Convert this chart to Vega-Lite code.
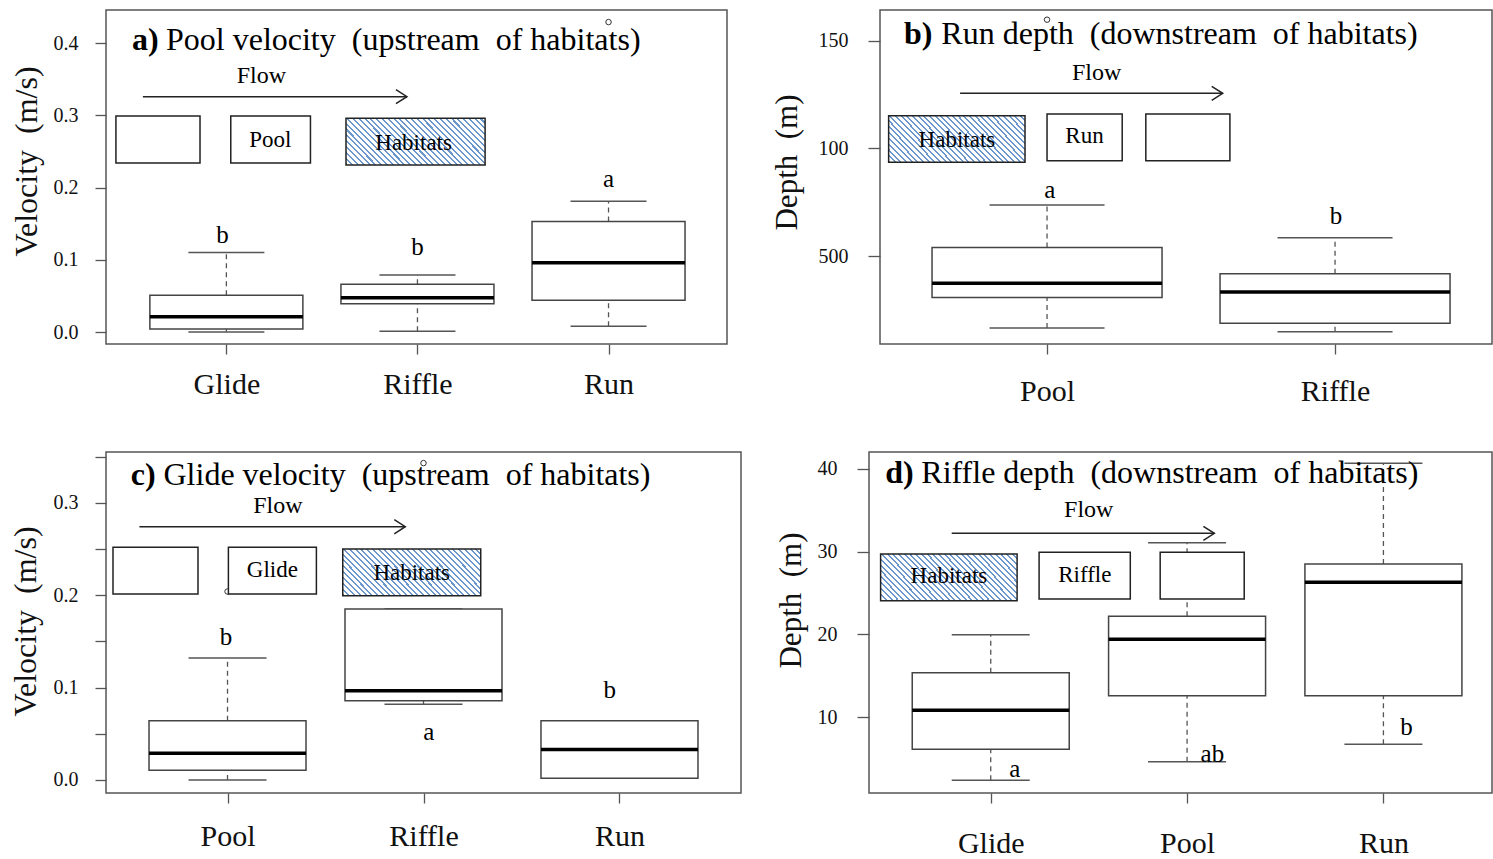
{
"$schema": "https://vega.github.io/schema/vega-lite/v6.json",
"background": "white",
"padding": {"left": 8, "top": 9, "right": 0, "bottom": 0},
"autosize": {"type": "pad"},
"bounds": "flush",
"spacing": 442,
"config": {
 "view": {"stroke": "#555", "strokeWidth": 1.5},
 "font": "Liberation Serif",
 "scale": {"continuousPadding": 0},
 "axis": {"grid": false, "domain": false, "tickColor": "#555", "tickWidth": 1.3, "labelFont": "Liberation Serif", "titleFont": "Liberation Serif", "labelColor": "#111", "titleColor": "#111", "titleFontWeight": "normal", "labelFlush": false, "labelOverlap": false, "labelBound": false}
},
"datasets": {
 "a_box": [
  {"habitat":"Glide","pos":1,"lower":0.0,"q1":0.004,"median":0.021,"q3":0.051,"upper":0.110},
  {"habitat":"Riffle","pos":2,"lower":0.001,"q1":0.039,"median":0.0475,"q3":0.066,"upper":0.079},
  {"habitat":"Run","pos":3,"lower":0.008,"q1":0.044,"median":0.096,"q3":0.153,"upper":0.181}
 ],
 "a_out": [{"habitat":"Run","pos":3,"value":0.429}],
 "a_shapes": [
  {"role":"plain","x1":0.422,"x2":0.862,"y1":0.299,"y2":0.234},
  {"role":"plain","x1":1.023,"x2":1.440,"y1":0.299,"y2":0.234},
  {"role":"hatch","x1":1.626,"x2":2.354,"y1":0.2958,"y2":0.2311},
  {"role":"arrow","x1":0.563,"x2":1.945,"y1":0.3257,"y2":0.3257}
 ],
 "a_text": [
  {"role":"tag","text":"a)","x":0.506,"y":0.390},
  {"role":"title","text":"Pool velocity\u00a0 (upstream\u00a0 of habitats)","x":0.684,"y":0.390},
  {"role":"flow","text":"Flow","x":1.183,"y":0.345},
  {"role":"label","text":"Pool","x":1.23,"y":0.2565},
  {"role":"label","text":"Habitats","x":1.98,"y":0.2519},
  {"role":"letter","text":"b","x":0.98,"y":0.1228},
  {"role":"letter","text":"b","x":2.0,"y":0.1066},
  {"role":"letter","text":"a","x":3.0,"y":0.2011}
 ],
 "b_box": [
  {"habitat":"Pool","pos":1,"lower":16.6,"q1":30.7,"median":37.3,"q3":54.0,"upper":73.7},
  {"habitat":"Riffle","pos":2,"lower":14.8,"q1":18.8,"median":33.3,"q3":41.8,"upper":58.5}
 ],
 "b_out": [{"habitat":"Pool","pos":1,"value":159.7}],
 "b_shapes": [
  {"role":"hatch","x1":0.450,"x2":0.9235,"y1":115.1,"y2":93.5},
  {"role":"plain","x1":1.000,"x2":1.261,"y1":115.9,"y2":94.2},
  {"role":"plain","x1":1.343,"x2":1.635,"y1":115.9,"y2":94.2},
  {"role":"arrow","x1":0.698,"x2":1.610,"y1":125.5,"y2":125.5}
 ],
 "b_text": [
  {"role":"tag","text":"b)","x":0.503,"y":148.3},
  {"role":"title","text":"Run depth\u00a0 (downstream\u00a0 of habitats)","x":0.633,"y":148.3},
  {"role":"flow","text":"Flow","x":1.172,"y":131.7},
  {"role":"label","text":"Habitats","x":0.687,"y":100.7},
  {"role":"label","text":"Run","x":1.13,"y":102.3},
  {"role":"letter","text":"a","x":1.01,"y":76.8},
  {"role":"letter","text":"b","x":2.003,"y":64.9}
 ],
 "c_box": [
  {"habitat":"Pool","pos":1,"lower":0.0,"q1":0.0105,"median":0.029,"q3":0.064,"upper":0.132},
  {"habitat":"Riffle","pos":2,"lower":0.082,"q1":0.0858,"median":0.0967,"q3":0.185,"upper":0.185},
  {"habitat":"Run","pos":3,"lower":0.002,"q1":0.002,"median":0.033,"q3":0.064,"upper":0.064}
 ],
 "c_out": [{"habitat":"Pool","pos":1,"value":0.204},{"habitat":"Riffle","pos":2,"value":0.343}],
 "c_shapes": [
  {"role":"plain","x1":0.4157,"x2":0.8494,"y1":0.2518,"y2":0.2013},
  {"role":"plain","x1":1.0045,"x2":1.4535,"y1":0.2518,"y2":0.2013},
  {"role":"hatch","x1":1.588,"x2":2.292,"y1":0.25,"y2":0.1995},
  {"role":"arrow","x1":0.5504,"x2":1.907,"y1":0.2741,"y2":0.2741}
 ],
 "c_text": [
  {"role":"tag","text":"c)","x":0.5065,"y":0.3193},
  {"role":"title","text":"Glide velocity\u00a0 (upstream\u00a0 of habitats)","x":0.6734,"y":0.3193},
  {"role":"flow","text":"Flow","x":1.257,"y":0.2886},
  {"role":"label","text":"Glide","x":1.229,"y":0.22},
  {"role":"label","text":"Habitats","x":1.94,"y":0.2165},
  {"role":"letter","text":"b","x":0.992,"y":0.1461},
  {"role":"letter","text":"a","x":2.027,"y":0.0433},
  {"role":"letter","text":"b","x":2.95,"y":0.0884}
 ],
 "d_box": [
  {"habitat":"Glide","pos":1,"lower":2.4,"q1":6.12,"median":10.83,"q3":15.37,"upper":19.96},
  {"habitat":"Pool","pos":2,"lower":4.63,"q1":12.6,"median":19.4,"q3":22.2,"upper":31.07},
  {"habitat":"Run","pos":3,"lower":6.73,"q1":12.6,"median":26.3,"q3":28.5,"upper":40.66}
 ],
 "d_shapes": [
  {"role":"hatch","x1":0.4391,"x2":1.1343,"y1":29.71,"y2":24.07},
  {"role":"plain","x1":1.2463,"x2":1.7108,"y1":29.92,"y2":24.28},
  {"role":"plain","x1":1.863,"x2":2.291,"y1":29.92,"y2":24.28},
  {"role":"arrow","x1":0.8012,"x2":2.139,"y1":32.21,"y2":32.21}
 ],
 "d_text": [
  {"role":"tag","text":"d)","x":0.463,"y":38.25},
  {"role":"title","text":"Riffle depth\u00a0 (downstream\u00a0 of habitats)","x":0.6464,"y":38.25},
  {"role":"flow","text":"Flow","x":1.499,"y":34.14},
  {"role":"label","text":"Habitats","x":0.787,"y":26.17},
  {"role":"label","text":"Riffle","x":1.479,"y":26.37},
  {"role":"letter","text":"a","x":1.123,"y":2.82},
  {"role":"letter","text":"ab","x":2.129,"y":4.63},
  {"role":"letter","text":"b","x":3.118,"y":7.85}
 ]
},
"vconcat": [
 {"hconcat": [
  {"width": 621, "height": 334, "layer": [
   {"data":{"name":"a_box"},"mark":{"type":"rule","color":"#555","strokeWidth":1.3,"strokeDash":[5,4]},
    "encoding":{"x":{"field":"pos","type":"quantitative","scale":{"domain":[0.37,3.62],"nice":false,"zero":false,"padding":0},"axis":{"values":[1,2,3],"labelExpr":"datum.value==1?'Glide':datum.value==2?'Riffle':'Run'","tickSize":10,"labelPadding":15,"labelFontSize":30,"title":null}},
     "y":{"field":"q3","type":"quantitative","scale":{"domain":[-0.0166,0.4457],"nice":false,"zero":false,"padding":0},"axis":{"values":[0,0.1,0.2,0.3,0.4],"format":".1f","tickSize":11,"labelPadding":17,"labelFontSize":20,"title":"Velocity\u00a0 (m/s)","titleFontSize":32,"titleX":-63,"titleY":151}},
     "y2":{"field":"upper"}}},
   {"data":{"name":"a_box"},"mark":{"type":"rule","color":"#555","strokeWidth":1.3,"strokeDash":[5,4]},
    "encoding":{"x":{"field":"pos","type":"quantitative"},"y":{"field":"lower","type":"quantitative"},"y2":{"field":"q1"}}},
   {"data":{"name":"a_box"},"mark":{"type":"tick","orient":"horizontal","color":"#555","thickness":1.5,"size":76,"opacity":1},
    "encoding":{"x":{"field":"pos","type":"quantitative"},"y":{"field":"upper","type":"quantitative"}}},
   {"data":{"name":"a_box"},"mark":{"type":"tick","orient":"horizontal","color":"#555","thickness":1.5,"size":76,"opacity":1},
    "encoding":{"x":{"field":"pos","type":"quantitative"},"y":{"field":"lower","type":"quantitative"}}},
   {"data":{"name":"a_box"},"mark":{"type":"bar","fill":"white","stroke":"#444","strokeWidth":1.5,"size":153},
    "encoding":{"x":{"field":"pos","type":"quantitative"},"y":{"field":"q1","type":"quantitative"},"y2":{"field":"q3"}}},
   {"data":{"name":"a_box"},"mark":{"type":"tick","orient":"horizontal","color":"#000","thickness":3.5,"size":153,"opacity":1},
    "encoding":{"x":{"field":"pos","type":"quantitative"},"y":{"field":"median","type":"quantitative"}}},
   {"data":{"name":"a_out"},"mark":{"type":"point","shape":"circle","filled":false,"size":30,"stroke":"#333","strokeWidth":1,"opacity":1},
    "encoding":{"x":{"field":"pos","type":"quantitative"},"y":{"field":"value","type":"quantitative"}}},
   {"data":{"name":"a_shapes"},"transform":[{"filter":"datum.role=='plain'"}],"mark":{"type":"rect","fill":"white","stroke":"#222","strokeWidth":1.5},
    "encoding":{"x":{"field":"x1","type":"quantitative"},"x2":{"field":"x2"},"y":{"field":"y1","type":"quantitative"},"y2":{"field":"y2"}}},
   {"data":{"name":"a_shapes"},"transform":[{"filter":"datum.role=='hatch'"}],"mark":{"type":"rect","stroke":"#222","strokeWidth":1.5,"fill":{"gradient":"linear","x1":0,"y1":1,"x2":1.2,"y2":0.6,"stops":[
{"offset":0,"color":"#6b97cd"},{"offset":0.011,"color":"#6b97cd"},{"offset":0.011,"color":"#fff"},{"offset":0.03125,"color":"#fff"},
{"offset":0.03125,"color":"#6b97cd"},{"offset":0.04225,"color":"#6b97cd"},{"offset":0.04225,"color":"#fff"},{"offset":0.0625,"color":"#fff"},
{"offset":0.0625,"color":"#6b97cd"},{"offset":0.0735,"color":"#6b97cd"},{"offset":0.0735,"color":"#fff"},{"offset":0.09375,"color":"#fff"},
{"offset":0.09375,"color":"#6b97cd"},{"offset":0.10475,"color":"#6b97cd"},{"offset":0.10475,"color":"#fff"},{"offset":0.125,"color":"#fff"},
{"offset":0.125,"color":"#6b97cd"},{"offset":0.136,"color":"#6b97cd"},{"offset":0.136,"color":"#fff"},{"offset":0.15625,"color":"#fff"},
{"offset":0.15625,"color":"#6b97cd"},{"offset":0.16725,"color":"#6b97cd"},{"offset":0.16725,"color":"#fff"},{"offset":0.1875,"color":"#fff"},
{"offset":0.1875,"color":"#6b97cd"},{"offset":0.1985,"color":"#6b97cd"},{"offset":0.1985,"color":"#fff"},{"offset":0.21875,"color":"#fff"},
{"offset":0.21875,"color":"#6b97cd"},{"offset":0.22975,"color":"#6b97cd"},{"offset":0.22975,"color":"#fff"},{"offset":0.25,"color":"#fff"},
{"offset":0.25,"color":"#6b97cd"},{"offset":0.261,"color":"#6b97cd"},{"offset":0.261,"color":"#fff"},{"offset":0.28125,"color":"#fff"},
{"offset":0.28125,"color":"#6b97cd"},{"offset":0.29225,"color":"#6b97cd"},{"offset":0.29225,"color":"#fff"},{"offset":0.3125,"color":"#fff"},
{"offset":0.3125,"color":"#6b97cd"},{"offset":0.3235,"color":"#6b97cd"},{"offset":0.3235,"color":"#fff"},{"offset":0.34375,"color":"#fff"},
{"offset":0.34375,"color":"#6b97cd"},{"offset":0.35475,"color":"#6b97cd"},{"offset":0.35475,"color":"#fff"},{"offset":0.375,"color":"#fff"},
{"offset":0.375,"color":"#6b97cd"},{"offset":0.386,"color":"#6b97cd"},{"offset":0.386,"color":"#fff"},{"offset":0.40625,"color":"#fff"},
{"offset":0.40625,"color":"#6b97cd"},{"offset":0.41725,"color":"#6b97cd"},{"offset":0.41725,"color":"#fff"},{"offset":0.4375,"color":"#fff"},
{"offset":0.4375,"color":"#6b97cd"},{"offset":0.4485,"color":"#6b97cd"},{"offset":0.4485,"color":"#fff"},{"offset":0.46875,"color":"#fff"},
{"offset":0.46875,"color":"#6b97cd"},{"offset":0.47975,"color":"#6b97cd"},{"offset":0.47975,"color":"#fff"},{"offset":0.5,"color":"#fff"},
{"offset":0.5,"color":"#6b97cd"},{"offset":0.511,"color":"#6b97cd"},{"offset":0.511,"color":"#fff"},{"offset":0.53125,"color":"#fff"},
{"offset":0.53125,"color":"#6b97cd"},{"offset":0.54225,"color":"#6b97cd"},{"offset":0.54225,"color":"#fff"},{"offset":0.5625,"color":"#fff"},
{"offset":0.5625,"color":"#6b97cd"},{"offset":0.5735,"color":"#6b97cd"},{"offset":0.5735,"color":"#fff"},{"offset":0.59375,"color":"#fff"},
{"offset":0.59375,"color":"#6b97cd"},{"offset":0.60475,"color":"#6b97cd"},{"offset":0.60475,"color":"#fff"},{"offset":0.625,"color":"#fff"},
{"offset":0.625,"color":"#6b97cd"},{"offset":0.636,"color":"#6b97cd"},{"offset":0.636,"color":"#fff"},{"offset":0.65625,"color":"#fff"},
{"offset":0.65625,"color":"#6b97cd"},{"offset":0.66725,"color":"#6b97cd"},{"offset":0.66725,"color":"#fff"},{"offset":0.6875,"color":"#fff"},
{"offset":0.6875,"color":"#6b97cd"},{"offset":0.6985,"color":"#6b97cd"},{"offset":0.6985,"color":"#fff"},{"offset":0.71875,"color":"#fff"},
{"offset":0.71875,"color":"#6b97cd"},{"offset":0.72975,"color":"#6b97cd"},{"offset":0.72975,"color":"#fff"},{"offset":0.75,"color":"#fff"},
{"offset":0.75,"color":"#6b97cd"},{"offset":0.761,"color":"#6b97cd"},{"offset":0.761,"color":"#fff"},{"offset":0.78125,"color":"#fff"},
{"offset":0.78125,"color":"#6b97cd"},{"offset":0.79225,"color":"#6b97cd"},{"offset":0.79225,"color":"#fff"},{"offset":0.8125,"color":"#fff"},
{"offset":0.8125,"color":"#6b97cd"},{"offset":0.8235,"color":"#6b97cd"},{"offset":0.8235,"color":"#fff"},{"offset":0.84375,"color":"#fff"},
{"offset":0.84375,"color":"#6b97cd"},{"offset":0.85475,"color":"#6b97cd"},{"offset":0.85475,"color":"#fff"},{"offset":0.875,"color":"#fff"},
{"offset":0.875,"color":"#6b97cd"},{"offset":0.886,"color":"#6b97cd"},{"offset":0.886,"color":"#fff"},{"offset":0.90625,"color":"#fff"},
{"offset":0.90625,"color":"#6b97cd"},{"offset":0.91725,"color":"#6b97cd"},{"offset":0.91725,"color":"#fff"},{"offset":0.9375,"color":"#fff"},
{"offset":0.9375,"color":"#6b97cd"},{"offset":0.9485,"color":"#6b97cd"},{"offset":0.9485,"color":"#fff"},{"offset":0.96875,"color":"#fff"},
{"offset":0.96875,"color":"#6b97cd"},{"offset":0.97975,"color":"#6b97cd"},{"offset":0.97975,"color":"#fff"},{"offset":1,"color":"#fff"}]}},
    "encoding":{"x":{"field":"x1","type":"quantitative"},"x2":{"field":"x2"},"y":{"field":"y1","type":"quantitative"},"y2":{"field":"y2"}}},
   {"data":{"name":"a_shapes"},"transform":[{"filter":"datum.role=='arrow'"}],"mark":{"type":"rule","color":"#222","strokeWidth":1.5},
    "encoding":{"x":{"field":"x1","type":"quantitative"},"x2":{"field":"x2"},"y":{"field":"y1","type":"quantitative"}}},
   {"data":{"name":"a_shapes"},"transform":[{"filter":"datum.role=='arrow'"}],"mark":{"type":"point","shape":"M-1,-0.64L0,0L-1,0.64","filled":false,"size":484,"stroke":"#222","strokeWidth":1.5,"opacity":1},
    "encoding":{"x":{"field":"x2","type":"quantitative"},"y":{"field":"y1","type":"quantitative"}}},
   {"data":{"name":"a_text"},"transform":[{"filter":"datum.role=='tag'"}],"mark":{"type":"text","fontSize":32,"fontWeight":"bold","align":"left","baseline":"alphabetic","color":"#000"},
    "encoding":{"x":{"field":"x","type":"quantitative"},"y":{"field":"y","type":"quantitative"},"text":{"field":"text"}}},
   {"data":{"name":"a_text"},"transform":[{"filter":"datum.role=='title'"}],"mark":{"type":"text","fontSize":32,"align":"left","baseline":"alphabetic","color":"#000"},
    "encoding":{"x":{"field":"x","type":"quantitative"},"y":{"field":"y","type":"quantitative"},"text":{"field":"text"}}},
   {"data":{"name":"a_text"},"transform":[{"filter":"datum.role=='flow'"}],"mark":{"type":"text","fontSize":24,"align":"center","baseline":"alphabetic","color":"#000"},
    "encoding":{"x":{"field":"x","type":"quantitative"},"y":{"field":"y","type":"quantitative"},"text":{"field":"text"}}},
   {"data":{"name":"a_text"},"transform":[{"filter":"datum.role=='label'"}],"mark":{"type":"text","fontSize":23,"align":"center","baseline":"alphabetic","color":"#000"},
    "encoding":{"x":{"field":"x","type":"quantitative"},"y":{"field":"y","type":"quantitative"},"text":{"field":"text"}}},
   {"data":{"name":"a_text"},"transform":[{"filter":"datum.role=='letter'"}],"mark":{"type":"text","fontSize":25,"align":"center","baseline":"alphabetic","color":"#000"},
    "encoding":{"x":{"field":"x","type":"quantitative"},"y":{"field":"y","type":"quantitative"},"text":{"field":"text"}}}
  ]},
  {"width": 612, "height": 334, "layer": [
   {"data":{"name":"b_box"},"mark":{"type":"rule","color":"#555","strokeWidth":1.3,"strokeDash":[5,4]},
    "encoding":{"x":{"field":"pos","type":"quantitative","scale":{"domain":[0.42,2.545],"nice":false,"zero":false,"padding":0},"axis":{"values":[1,2],"labelExpr":"datum.value==1?'Pool':'Riffle'","tickSize":10,"labelPadding":22,"labelFontSize":30,"title":null}},
     "y":{"field":"q3","type":"quantitative","scale":{"domain":[9.15,164.2],"nice":false,"zero":false,"padding":0},"axis":{"values":[50,100,150],"labelExpr":"datum.value==50?'500':datum.label","tickSize":12,"labelPadding":20,"labelFontSize":20,"title":"Depth\u00a0 (m)","titleFontSize":31,"titleX":-77,"titleY":152}},
     "y2":{"field":"upper"}}},
   {"data":{"name":"b_box"},"mark":{"type":"rule","color":"#555","strokeWidth":1.3,"strokeDash":[5,4]},
    "encoding":{"x":{"field":"pos","type":"quantitative"},"y":{"field":"lower","type":"quantitative"},"y2":{"field":"q1"}}},
   {"data":{"name":"b_box"},"mark":{"type":"tick","orient":"horizontal","color":"#555","thickness":1.5,"size":115,"opacity":1},
    "encoding":{"x":{"field":"pos","type":"quantitative"},"y":{"field":"upper","type":"quantitative"}}},
   {"data":{"name":"b_box"},"mark":{"type":"tick","orient":"horizontal","color":"#555","thickness":1.5,"size":115,"opacity":1},
    "encoding":{"x":{"field":"pos","type":"quantitative"},"y":{"field":"lower","type":"quantitative"}}},
   {"data":{"name":"b_box"},"mark":{"type":"bar","fill":"white","stroke":"#444","strokeWidth":1.5,"size":230},
    "encoding":{"x":{"field":"pos","type":"quantitative"},"y":{"field":"q1","type":"quantitative"},"y2":{"field":"q3"}}},
   {"data":{"name":"b_box"},"mark":{"type":"tick","orient":"horizontal","color":"#000","thickness":3.5,"size":230,"opacity":1},
    "encoding":{"x":{"field":"pos","type":"quantitative"},"y":{"field":"median","type":"quantitative"}}},
   {"data":{"name":"b_out"},"mark":{"type":"point","shape":"circle","filled":false,"size":30,"stroke":"#333","strokeWidth":1,"opacity":1},
    "encoding":{"x":{"field":"pos","type":"quantitative"},"y":{"field":"value","type":"quantitative"}}},
   {"data":{"name":"b_shapes"},"transform":[{"filter":"datum.role=='plain'"}],"mark":{"type":"rect","fill":"white","stroke":"#222","strokeWidth":1.5},
    "encoding":{"x":{"field":"x1","type":"quantitative"},"x2":{"field":"x2"},"y":{"field":"y1","type":"quantitative"},"y2":{"field":"y2"}}},
   {"data":{"name":"b_shapes"},"transform":[{"filter":"datum.role=='hatch'"}],"mark":{"type":"rect","stroke":"#222","strokeWidth":1.5,"fill":{"gradient":"linear","x1":0,"y1":1,"x2":1.2,"y2":0.6,"stops":[
{"offset":0,"color":"#6b97cd"},{"offset":0.011,"color":"#6b97cd"},{"offset":0.011,"color":"#fff"},{"offset":0.03125,"color":"#fff"},
{"offset":0.03125,"color":"#6b97cd"},{"offset":0.04225,"color":"#6b97cd"},{"offset":0.04225,"color":"#fff"},{"offset":0.0625,"color":"#fff"},
{"offset":0.0625,"color":"#6b97cd"},{"offset":0.0735,"color":"#6b97cd"},{"offset":0.0735,"color":"#fff"},{"offset":0.09375,"color":"#fff"},
{"offset":0.09375,"color":"#6b97cd"},{"offset":0.10475,"color":"#6b97cd"},{"offset":0.10475,"color":"#fff"},{"offset":0.125,"color":"#fff"},
{"offset":0.125,"color":"#6b97cd"},{"offset":0.136,"color":"#6b97cd"},{"offset":0.136,"color":"#fff"},{"offset":0.15625,"color":"#fff"},
{"offset":0.15625,"color":"#6b97cd"},{"offset":0.16725,"color":"#6b97cd"},{"offset":0.16725,"color":"#fff"},{"offset":0.1875,"color":"#fff"},
{"offset":0.1875,"color":"#6b97cd"},{"offset":0.1985,"color":"#6b97cd"},{"offset":0.1985,"color":"#fff"},{"offset":0.21875,"color":"#fff"},
{"offset":0.21875,"color":"#6b97cd"},{"offset":0.22975,"color":"#6b97cd"},{"offset":0.22975,"color":"#fff"},{"offset":0.25,"color":"#fff"},
{"offset":0.25,"color":"#6b97cd"},{"offset":0.261,"color":"#6b97cd"},{"offset":0.261,"color":"#fff"},{"offset":0.28125,"color":"#fff"},
{"offset":0.28125,"color":"#6b97cd"},{"offset":0.29225,"color":"#6b97cd"},{"offset":0.29225,"color":"#fff"},{"offset":0.3125,"color":"#fff"},
{"offset":0.3125,"color":"#6b97cd"},{"offset":0.3235,"color":"#6b97cd"},{"offset":0.3235,"color":"#fff"},{"offset":0.34375,"color":"#fff"},
{"offset":0.34375,"color":"#6b97cd"},{"offset":0.35475,"color":"#6b97cd"},{"offset":0.35475,"color":"#fff"},{"offset":0.375,"color":"#fff"},
{"offset":0.375,"color":"#6b97cd"},{"offset":0.386,"color":"#6b97cd"},{"offset":0.386,"color":"#fff"},{"offset":0.40625,"color":"#fff"},
{"offset":0.40625,"color":"#6b97cd"},{"offset":0.41725,"color":"#6b97cd"},{"offset":0.41725,"color":"#fff"},{"offset":0.4375,"color":"#fff"},
{"offset":0.4375,"color":"#6b97cd"},{"offset":0.4485,"color":"#6b97cd"},{"offset":0.4485,"color":"#fff"},{"offset":0.46875,"color":"#fff"},
{"offset":0.46875,"color":"#6b97cd"},{"offset":0.47975,"color":"#6b97cd"},{"offset":0.47975,"color":"#fff"},{"offset":0.5,"color":"#fff"},
{"offset":0.5,"color":"#6b97cd"},{"offset":0.511,"color":"#6b97cd"},{"offset":0.511,"color":"#fff"},{"offset":0.53125,"color":"#fff"},
{"offset":0.53125,"color":"#6b97cd"},{"offset":0.54225,"color":"#6b97cd"},{"offset":0.54225,"color":"#fff"},{"offset":0.5625,"color":"#fff"},
{"offset":0.5625,"color":"#6b97cd"},{"offset":0.5735,"color":"#6b97cd"},{"offset":0.5735,"color":"#fff"},{"offset":0.59375,"color":"#fff"},
{"offset":0.59375,"color":"#6b97cd"},{"offset":0.60475,"color":"#6b97cd"},{"offset":0.60475,"color":"#fff"},{"offset":0.625,"color":"#fff"},
{"offset":0.625,"color":"#6b97cd"},{"offset":0.636,"color":"#6b97cd"},{"offset":0.636,"color":"#fff"},{"offset":0.65625,"color":"#fff"},
{"offset":0.65625,"color":"#6b97cd"},{"offset":0.66725,"color":"#6b97cd"},{"offset":0.66725,"color":"#fff"},{"offset":0.6875,"color":"#fff"},
{"offset":0.6875,"color":"#6b97cd"},{"offset":0.6985,"color":"#6b97cd"},{"offset":0.6985,"color":"#fff"},{"offset":0.71875,"color":"#fff"},
{"offset":0.71875,"color":"#6b97cd"},{"offset":0.72975,"color":"#6b97cd"},{"offset":0.72975,"color":"#fff"},{"offset":0.75,"color":"#fff"},
{"offset":0.75,"color":"#6b97cd"},{"offset":0.761,"color":"#6b97cd"},{"offset":0.761,"color":"#fff"},{"offset":0.78125,"color":"#fff"},
{"offset":0.78125,"color":"#6b97cd"},{"offset":0.79225,"color":"#6b97cd"},{"offset":0.79225,"color":"#fff"},{"offset":0.8125,"color":"#fff"},
{"offset":0.8125,"color":"#6b97cd"},{"offset":0.8235,"color":"#6b97cd"},{"offset":0.8235,"color":"#fff"},{"offset":0.84375,"color":"#fff"},
{"offset":0.84375,"color":"#6b97cd"},{"offset":0.85475,"color":"#6b97cd"},{"offset":0.85475,"color":"#fff"},{"offset":0.875,"color":"#fff"},
{"offset":0.875,"color":"#6b97cd"},{"offset":0.886,"color":"#6b97cd"},{"offset":0.886,"color":"#fff"},{"offset":0.90625,"color":"#fff"},
{"offset":0.90625,"color":"#6b97cd"},{"offset":0.91725,"color":"#6b97cd"},{"offset":0.91725,"color":"#fff"},{"offset":0.9375,"color":"#fff"},
{"offset":0.9375,"color":"#6b97cd"},{"offset":0.9485,"color":"#6b97cd"},{"offset":0.9485,"color":"#fff"},{"offset":0.96875,"color":"#fff"},
{"offset":0.96875,"color":"#6b97cd"},{"offset":0.97975,"color":"#6b97cd"},{"offset":0.97975,"color":"#fff"},{"offset":1,"color":"#fff"}]}},
    "encoding":{"x":{"field":"x1","type":"quantitative"},"x2":{"field":"x2"},"y":{"field":"y1","type":"quantitative"},"y2":{"field":"y2"}}},
   {"data":{"name":"b_shapes"},"transform":[{"filter":"datum.role=='arrow'"}],"mark":{"type":"rule","color":"#222","strokeWidth":1.5},
    "encoding":{"x":{"field":"x1","type":"quantitative"},"x2":{"field":"x2"},"y":{"field":"y1","type":"quantitative"}}},
   {"data":{"name":"b_shapes"},"transform":[{"filter":"datum.role=='arrow'"}],"mark":{"type":"point","shape":"M-1,-0.64L0,0L-1,0.64","filled":false,"size":484,"stroke":"#222","strokeWidth":1.5,"opacity":1},
    "encoding":{"x":{"field":"x2","type":"quantitative"},"y":{"field":"y1","type":"quantitative"}}},
   {"data":{"name":"b_text"},"transform":[{"filter":"datum.role=='tag'"}],"mark":{"type":"text","fontSize":32,"fontWeight":"bold","align":"left","baseline":"alphabetic","color":"#000"},
    "encoding":{"x":{"field":"x","type":"quantitative"},"y":{"field":"y","type":"quantitative"},"text":{"field":"text"}}},
   {"data":{"name":"b_text"},"transform":[{"filter":"datum.role=='title'"}],"mark":{"type":"text","fontSize":32,"align":"left","baseline":"alphabetic","color":"#000"},
    "encoding":{"x":{"field":"x","type":"quantitative"},"y":{"field":"y","type":"quantitative"},"text":{"field":"text"}}},
   {"data":{"name":"b_text"},"transform":[{"filter":"datum.role=='flow'"}],"mark":{"type":"text","fontSize":24,"align":"center","baseline":"alphabetic","color":"#000"},
    "encoding":{"x":{"field":"x","type":"quantitative"},"y":{"field":"y","type":"quantitative"},"text":{"field":"text"}}},
   {"data":{"name":"b_text"},"transform":[{"filter":"datum.role=='label'"}],"mark":{"type":"text","fontSize":23,"align":"center","baseline":"alphabetic","color":"#000"},
    "encoding":{"x":{"field":"x","type":"quantitative"},"y":{"field":"y","type":"quantitative"},"text":{"field":"text"}}},
   {"data":{"name":"b_text"},"transform":[{"filter":"datum.role=='letter'"}],"mark":{"type":"text","fontSize":25,"align":"center","baseline":"alphabetic","color":"#000"},
    "encoding":{"x":{"field":"x","type":"quantitative"},"y":{"field":"y","type":"quantitative"},"text":{"field":"text"}}}
  ]}
 ], "spacing": 153, "bounds": "flush"},
 {"hconcat": [
  {"width": 635, "height": 341, "layer": [
   {"data":{"name":"c_box"},"mark":{"type":"rule","color":"#555","strokeWidth":1.3,"strokeDash":[5,4]},
    "encoding":{"x":{"field":"pos","type":"quantitative","scale":{"domain":[0.38,3.62],"nice":false,"zero":false,"padding":0},"axis":{"values":[1,2,3],"labelExpr":"datum.value==1?'Pool':datum.value==2?'Riffle':'Run'","tickSize":10,"labelPadding":18,"labelFontSize":30,"title":null}},
     "y":{"field":"q3","type":"quantitative","scale":{"domain":[-0.0141,0.355],"nice":false,"zero":false,"padding":0},"axis":{"values":[0,0.05,0.1,0.15,0.2,0.25,0.3,0.35],"labelExpr":"round(datum.value*100)%10==0?format(datum.value,'.1f'):''","tickSize":11,"labelPadding":17,"labelFontSize":20,"title":"Velocity\u00a0 (m/s)","titleFontSize":32,"titleX":-64,"titleY":169}},
     "y2":{"field":"upper"}}},
   {"data":{"name":"c_box"},"mark":{"type":"rule","color":"#555","strokeWidth":1.3,"strokeDash":[5,4]},
    "encoding":{"x":{"field":"pos","type":"quantitative"},"y":{"field":"lower","type":"quantitative"},"y2":{"field":"q1"}}},
   {"data":{"name":"c_box"},"mark":{"type":"tick","orient":"horizontal","color":"#555","thickness":1.5,"size":78,"opacity":1},
    "encoding":{"x":{"field":"pos","type":"quantitative"},"y":{"field":"upper","type":"quantitative"}}},
   {"data":{"name":"c_box"},"mark":{"type":"tick","orient":"horizontal","color":"#555","thickness":1.5,"size":78,"opacity":1},
    "encoding":{"x":{"field":"pos","type":"quantitative"},"y":{"field":"lower","type":"quantitative"}}},
   {"data":{"name":"c_box"},"mark":{"type":"bar","fill":"white","stroke":"#444","strokeWidth":1.5,"size":157},
    "encoding":{"x":{"field":"pos","type":"quantitative"},"y":{"field":"q1","type":"quantitative"},"y2":{"field":"q3"}}},
   {"data":{"name":"c_box"},"mark":{"type":"tick","orient":"horizontal","color":"#000","thickness":3.5,"size":157,"opacity":1},
    "encoding":{"x":{"field":"pos","type":"quantitative"},"y":{"field":"median","type":"quantitative"}}},
   {"data":{"name":"c_out"},"mark":{"type":"point","shape":"circle","filled":false,"size":30,"stroke":"#333","strokeWidth":1,"opacity":1},
    "encoding":{"x":{"field":"pos","type":"quantitative"},"y":{"field":"value","type":"quantitative"}}},
   {"data":{"name":"c_shapes"},"transform":[{"filter":"datum.role=='plain'"}],"mark":{"type":"rect","fill":"white","stroke":"#222","strokeWidth":1.5},
    "encoding":{"x":{"field":"x1","type":"quantitative"},"x2":{"field":"x2"},"y":{"field":"y1","type":"quantitative"},"y2":{"field":"y2"}}},
   {"data":{"name":"c_shapes"},"transform":[{"filter":"datum.role=='hatch'"}],"mark":{"type":"rect","stroke":"#222","strokeWidth":1.5,"fill":{"gradient":"linear","x1":0,"y1":1,"x2":1.2,"y2":0.6,"stops":[
{"offset":0,"color":"#6b97cd"},{"offset":0.011,"color":"#6b97cd"},{"offset":0.011,"color":"#fff"},{"offset":0.03125,"color":"#fff"},
{"offset":0.03125,"color":"#6b97cd"},{"offset":0.04225,"color":"#6b97cd"},{"offset":0.04225,"color":"#fff"},{"offset":0.0625,"color":"#fff"},
{"offset":0.0625,"color":"#6b97cd"},{"offset":0.0735,"color":"#6b97cd"},{"offset":0.0735,"color":"#fff"},{"offset":0.09375,"color":"#fff"},
{"offset":0.09375,"color":"#6b97cd"},{"offset":0.10475,"color":"#6b97cd"},{"offset":0.10475,"color":"#fff"},{"offset":0.125,"color":"#fff"},
{"offset":0.125,"color":"#6b97cd"},{"offset":0.136,"color":"#6b97cd"},{"offset":0.136,"color":"#fff"},{"offset":0.15625,"color":"#fff"},
{"offset":0.15625,"color":"#6b97cd"},{"offset":0.16725,"color":"#6b97cd"},{"offset":0.16725,"color":"#fff"},{"offset":0.1875,"color":"#fff"},
{"offset":0.1875,"color":"#6b97cd"},{"offset":0.1985,"color":"#6b97cd"},{"offset":0.1985,"color":"#fff"},{"offset":0.21875,"color":"#fff"},
{"offset":0.21875,"color":"#6b97cd"},{"offset":0.22975,"color":"#6b97cd"},{"offset":0.22975,"color":"#fff"},{"offset":0.25,"color":"#fff"},
{"offset":0.25,"color":"#6b97cd"},{"offset":0.261,"color":"#6b97cd"},{"offset":0.261,"color":"#fff"},{"offset":0.28125,"color":"#fff"},
{"offset":0.28125,"color":"#6b97cd"},{"offset":0.29225,"color":"#6b97cd"},{"offset":0.29225,"color":"#fff"},{"offset":0.3125,"color":"#fff"},
{"offset":0.3125,"color":"#6b97cd"},{"offset":0.3235,"color":"#6b97cd"},{"offset":0.3235,"color":"#fff"},{"offset":0.34375,"color":"#fff"},
{"offset":0.34375,"color":"#6b97cd"},{"offset":0.35475,"color":"#6b97cd"},{"offset":0.35475,"color":"#fff"},{"offset":0.375,"color":"#fff"},
{"offset":0.375,"color":"#6b97cd"},{"offset":0.386,"color":"#6b97cd"},{"offset":0.386,"color":"#fff"},{"offset":0.40625,"color":"#fff"},
{"offset":0.40625,"color":"#6b97cd"},{"offset":0.41725,"color":"#6b97cd"},{"offset":0.41725,"color":"#fff"},{"offset":0.4375,"color":"#fff"},
{"offset":0.4375,"color":"#6b97cd"},{"offset":0.4485,"color":"#6b97cd"},{"offset":0.4485,"color":"#fff"},{"offset":0.46875,"color":"#fff"},
{"offset":0.46875,"color":"#6b97cd"},{"offset":0.47975,"color":"#6b97cd"},{"offset":0.47975,"color":"#fff"},{"offset":0.5,"color":"#fff"},
{"offset":0.5,"color":"#6b97cd"},{"offset":0.511,"color":"#6b97cd"},{"offset":0.511,"color":"#fff"},{"offset":0.53125,"color":"#fff"},
{"offset":0.53125,"color":"#6b97cd"},{"offset":0.54225,"color":"#6b97cd"},{"offset":0.54225,"color":"#fff"},{"offset":0.5625,"color":"#fff"},
{"offset":0.5625,"color":"#6b97cd"},{"offset":0.5735,"color":"#6b97cd"},{"offset":0.5735,"color":"#fff"},{"offset":0.59375,"color":"#fff"},
{"offset":0.59375,"color":"#6b97cd"},{"offset":0.60475,"color":"#6b97cd"},{"offset":0.60475,"color":"#fff"},{"offset":0.625,"color":"#fff"},
{"offset":0.625,"color":"#6b97cd"},{"offset":0.636,"color":"#6b97cd"},{"offset":0.636,"color":"#fff"},{"offset":0.65625,"color":"#fff"},
{"offset":0.65625,"color":"#6b97cd"},{"offset":0.66725,"color":"#6b97cd"},{"offset":0.66725,"color":"#fff"},{"offset":0.6875,"color":"#fff"},
{"offset":0.6875,"color":"#6b97cd"},{"offset":0.6985,"color":"#6b97cd"},{"offset":0.6985,"color":"#fff"},{"offset":0.71875,"color":"#fff"},
{"offset":0.71875,"color":"#6b97cd"},{"offset":0.72975,"color":"#6b97cd"},{"offset":0.72975,"color":"#fff"},{"offset":0.75,"color":"#fff"},
{"offset":0.75,"color":"#6b97cd"},{"offset":0.761,"color":"#6b97cd"},{"offset":0.761,"color":"#fff"},{"offset":0.78125,"color":"#fff"},
{"offset":0.78125,"color":"#6b97cd"},{"offset":0.79225,"color":"#6b97cd"},{"offset":0.79225,"color":"#fff"},{"offset":0.8125,"color":"#fff"},
{"offset":0.8125,"color":"#6b97cd"},{"offset":0.8235,"color":"#6b97cd"},{"offset":0.8235,"color":"#fff"},{"offset":0.84375,"color":"#fff"},
{"offset":0.84375,"color":"#6b97cd"},{"offset":0.85475,"color":"#6b97cd"},{"offset":0.85475,"color":"#fff"},{"offset":0.875,"color":"#fff"},
{"offset":0.875,"color":"#6b97cd"},{"offset":0.886,"color":"#6b97cd"},{"offset":0.886,"color":"#fff"},{"offset":0.90625,"color":"#fff"},
{"offset":0.90625,"color":"#6b97cd"},{"offset":0.91725,"color":"#6b97cd"},{"offset":0.91725,"color":"#fff"},{"offset":0.9375,"color":"#fff"},
{"offset":0.9375,"color":"#6b97cd"},{"offset":0.9485,"color":"#6b97cd"},{"offset":0.9485,"color":"#fff"},{"offset":0.96875,"color":"#fff"},
{"offset":0.96875,"color":"#6b97cd"},{"offset":0.97975,"color":"#6b97cd"},{"offset":0.97975,"color":"#fff"},{"offset":1,"color":"#fff"}]}},
    "encoding":{"x":{"field":"x1","type":"quantitative"},"x2":{"field":"x2"},"y":{"field":"y1","type":"quantitative"},"y2":{"field":"y2"}}},
   {"data":{"name":"c_shapes"},"transform":[{"filter":"datum.role=='arrow'"}],"mark":{"type":"rule","color":"#222","strokeWidth":1.5},
    "encoding":{"x":{"field":"x1","type":"quantitative"},"x2":{"field":"x2"},"y":{"field":"y1","type":"quantitative"}}},
   {"data":{"name":"c_shapes"},"transform":[{"filter":"datum.role=='arrow'"}],"mark":{"type":"point","shape":"M-1,-0.64L0,0L-1,0.64","filled":false,"size":484,"stroke":"#222","strokeWidth":1.5,"opacity":1},
    "encoding":{"x":{"field":"x2","type":"quantitative"},"y":{"field":"y1","type":"quantitative"}}},
   {"data":{"name":"c_text"},"transform":[{"filter":"datum.role=='tag'"}],"mark":{"type":"text","fontSize":32,"fontWeight":"bold","align":"left","baseline":"alphabetic","color":"#000"},
    "encoding":{"x":{"field":"x","type":"quantitative"},"y":{"field":"y","type":"quantitative"},"text":{"field":"text"}}},
   {"data":{"name":"c_text"},"transform":[{"filter":"datum.role=='title'"}],"mark":{"type":"text","fontSize":32,"align":"left","baseline":"alphabetic","color":"#000"},
    "encoding":{"x":{"field":"x","type":"quantitative"},"y":{"field":"y","type":"quantitative"},"text":{"field":"text"}}},
   {"data":{"name":"c_text"},"transform":[{"filter":"datum.role=='flow'"}],"mark":{"type":"text","fontSize":24,"align":"center","baseline":"alphabetic","color":"#000"},
    "encoding":{"x":{"field":"x","type":"quantitative"},"y":{"field":"y","type":"quantitative"},"text":{"field":"text"}}},
   {"data":{"name":"c_text"},"transform":[{"filter":"datum.role=='label'"}],"mark":{"type":"text","fontSize":23,"align":"center","baseline":"alphabetic","color":"#000"},
    "encoding":{"x":{"field":"x","type":"quantitative"},"y":{"field":"y","type":"quantitative"},"text":{"field":"text"}}},
   {"data":{"name":"c_text"},"transform":[{"filter":"datum.role=='letter'"}],"mark":{"type":"text","fontSize":25,"align":"center","baseline":"alphabetic","color":"#000"},
    "encoding":{"x":{"field":"x","type":"quantitative"},"y":{"field":"y","type":"quantitative"},"text":{"field":"text"}}}
  ]},
  {"width": 623, "height": 341, "layer": [
   {"data":{"name":"d_box"},"mark":{"type":"rule","color":"#555","strokeWidth":1.3,"strokeDash":[5,4]},
    "encoding":{"x":{"field":"pos","type":"quantitative","scale":{"domain":[0.38,3.553],"nice":false,"zero":false,"padding":0},"axis":{"values":[1,2,3],"labelExpr":"datum.value==1?'Glide':datum.value==2?'Pool':'Run'","tickSize":10,"labelPadding":25,"labelFontSize":30,"title":null}},
     "y":{"field":"q3","type":"quantitative","scale":{"domain":[0.845,42.03],"nice":false,"zero":false,"padding":0},"axis":{"values":[10,20,30,40],"tickSize":12,"labelPadding":20,"labelFontSize":20,"title":"Depth\u00a0 (m)","titleFontSize":31,"titleX":-62,"titleY":148}},
     "y2":{"field":"upper"}}},
   {"data":{"name":"d_box"},"mark":{"type":"rule","color":"#555","strokeWidth":1.3,"strokeDash":[5,4]},
    "encoding":{"x":{"field":"pos","type":"quantitative"},"y":{"field":"lower","type":"quantitative"},"y2":{"field":"q1"}}},
   {"data":{"name":"d_box"},"mark":{"type":"tick","orient":"horizontal","color":"#555","thickness":1.5,"size":78,"opacity":1},
    "encoding":{"x":{"field":"pos","type":"quantitative"},"y":{"field":"upper","type":"quantitative"}}},
   {"data":{"name":"d_box"},"mark":{"type":"tick","orient":"horizontal","color":"#555","thickness":1.5,"size":78,"opacity":1},
    "encoding":{"x":{"field":"pos","type":"quantitative"},"y":{"field":"lower","type":"quantitative"}}},
   {"data":{"name":"d_box"},"mark":{"type":"bar","fill":"white","stroke":"#444","strokeWidth":1.5,"size":157},
    "encoding":{"x":{"field":"pos","type":"quantitative"},"y":{"field":"q1","type":"quantitative"},"y2":{"field":"q3"}}},
   {"data":{"name":"d_box"},"mark":{"type":"tick","orient":"horizontal","color":"#000","thickness":3.5,"size":157,"opacity":1},
    "encoding":{"x":{"field":"pos","type":"quantitative"},"y":{"field":"median","type":"quantitative"}}},
   {"data":{"name":"d_shapes"},"transform":[{"filter":"datum.role=='plain'"}],"mark":{"type":"rect","fill":"white","stroke":"#222","strokeWidth":1.5},
    "encoding":{"x":{"field":"x1","type":"quantitative"},"x2":{"field":"x2"},"y":{"field":"y1","type":"quantitative"},"y2":{"field":"y2"}}},
   {"data":{"name":"d_shapes"},"transform":[{"filter":"datum.role=='hatch'"}],"mark":{"type":"rect","stroke":"#222","strokeWidth":1.5,"fill":{"gradient":"linear","x1":0,"y1":1,"x2":1.2,"y2":0.6,"stops":[
{"offset":0,"color":"#6b97cd"},{"offset":0.011,"color":"#6b97cd"},{"offset":0.011,"color":"#fff"},{"offset":0.03125,"color":"#fff"},
{"offset":0.03125,"color":"#6b97cd"},{"offset":0.04225,"color":"#6b97cd"},{"offset":0.04225,"color":"#fff"},{"offset":0.0625,"color":"#fff"},
{"offset":0.0625,"color":"#6b97cd"},{"offset":0.0735,"color":"#6b97cd"},{"offset":0.0735,"color":"#fff"},{"offset":0.09375,"color":"#fff"},
{"offset":0.09375,"color":"#6b97cd"},{"offset":0.10475,"color":"#6b97cd"},{"offset":0.10475,"color":"#fff"},{"offset":0.125,"color":"#fff"},
{"offset":0.125,"color":"#6b97cd"},{"offset":0.136,"color":"#6b97cd"},{"offset":0.136,"color":"#fff"},{"offset":0.15625,"color":"#fff"},
{"offset":0.15625,"color":"#6b97cd"},{"offset":0.16725,"color":"#6b97cd"},{"offset":0.16725,"color":"#fff"},{"offset":0.1875,"color":"#fff"},
{"offset":0.1875,"color":"#6b97cd"},{"offset":0.1985,"color":"#6b97cd"},{"offset":0.1985,"color":"#fff"},{"offset":0.21875,"color":"#fff"},
{"offset":0.21875,"color":"#6b97cd"},{"offset":0.22975,"color":"#6b97cd"},{"offset":0.22975,"color":"#fff"},{"offset":0.25,"color":"#fff"},
{"offset":0.25,"color":"#6b97cd"},{"offset":0.261,"color":"#6b97cd"},{"offset":0.261,"color":"#fff"},{"offset":0.28125,"color":"#fff"},
{"offset":0.28125,"color":"#6b97cd"},{"offset":0.29225,"color":"#6b97cd"},{"offset":0.29225,"color":"#fff"},{"offset":0.3125,"color":"#fff"},
{"offset":0.3125,"color":"#6b97cd"},{"offset":0.3235,"color":"#6b97cd"},{"offset":0.3235,"color":"#fff"},{"offset":0.34375,"color":"#fff"},
{"offset":0.34375,"color":"#6b97cd"},{"offset":0.35475,"color":"#6b97cd"},{"offset":0.35475,"color":"#fff"},{"offset":0.375,"color":"#fff"},
{"offset":0.375,"color":"#6b97cd"},{"offset":0.386,"color":"#6b97cd"},{"offset":0.386,"color":"#fff"},{"offset":0.40625,"color":"#fff"},
{"offset":0.40625,"color":"#6b97cd"},{"offset":0.41725,"color":"#6b97cd"},{"offset":0.41725,"color":"#fff"},{"offset":0.4375,"color":"#fff"},
{"offset":0.4375,"color":"#6b97cd"},{"offset":0.4485,"color":"#6b97cd"},{"offset":0.4485,"color":"#fff"},{"offset":0.46875,"color":"#fff"},
{"offset":0.46875,"color":"#6b97cd"},{"offset":0.47975,"color":"#6b97cd"},{"offset":0.47975,"color":"#fff"},{"offset":0.5,"color":"#fff"},
{"offset":0.5,"color":"#6b97cd"},{"offset":0.511,"color":"#6b97cd"},{"offset":0.511,"color":"#fff"},{"offset":0.53125,"color":"#fff"},
{"offset":0.53125,"color":"#6b97cd"},{"offset":0.54225,"color":"#6b97cd"},{"offset":0.54225,"color":"#fff"},{"offset":0.5625,"color":"#fff"},
{"offset":0.5625,"color":"#6b97cd"},{"offset":0.5735,"color":"#6b97cd"},{"offset":0.5735,"color":"#fff"},{"offset":0.59375,"color":"#fff"},
{"offset":0.59375,"color":"#6b97cd"},{"offset":0.60475,"color":"#6b97cd"},{"offset":0.60475,"color":"#fff"},{"offset":0.625,"color":"#fff"},
{"offset":0.625,"color":"#6b97cd"},{"offset":0.636,"color":"#6b97cd"},{"offset":0.636,"color":"#fff"},{"offset":0.65625,"color":"#fff"},
{"offset":0.65625,"color":"#6b97cd"},{"offset":0.66725,"color":"#6b97cd"},{"offset":0.66725,"color":"#fff"},{"offset":0.6875,"color":"#fff"},
{"offset":0.6875,"color":"#6b97cd"},{"offset":0.6985,"color":"#6b97cd"},{"offset":0.6985,"color":"#fff"},{"offset":0.71875,"color":"#fff"},
{"offset":0.71875,"color":"#6b97cd"},{"offset":0.72975,"color":"#6b97cd"},{"offset":0.72975,"color":"#fff"},{"offset":0.75,"color":"#fff"},
{"offset":0.75,"color":"#6b97cd"},{"offset":0.761,"color":"#6b97cd"},{"offset":0.761,"color":"#fff"},{"offset":0.78125,"color":"#fff"},
{"offset":0.78125,"color":"#6b97cd"},{"offset":0.79225,"color":"#6b97cd"},{"offset":0.79225,"color":"#fff"},{"offset":0.8125,"color":"#fff"},
{"offset":0.8125,"color":"#6b97cd"},{"offset":0.8235,"color":"#6b97cd"},{"offset":0.8235,"color":"#fff"},{"offset":0.84375,"color":"#fff"},
{"offset":0.84375,"color":"#6b97cd"},{"offset":0.85475,"color":"#6b97cd"},{"offset":0.85475,"color":"#fff"},{"offset":0.875,"color":"#fff"},
{"offset":0.875,"color":"#6b97cd"},{"offset":0.886,"color":"#6b97cd"},{"offset":0.886,"color":"#fff"},{"offset":0.90625,"color":"#fff"},
{"offset":0.90625,"color":"#6b97cd"},{"offset":0.91725,"color":"#6b97cd"},{"offset":0.91725,"color":"#fff"},{"offset":0.9375,"color":"#fff"},
{"offset":0.9375,"color":"#6b97cd"},{"offset":0.9485,"color":"#6b97cd"},{"offset":0.9485,"color":"#fff"},{"offset":0.96875,"color":"#fff"},
{"offset":0.96875,"color":"#6b97cd"},{"offset":0.97975,"color":"#6b97cd"},{"offset":0.97975,"color":"#fff"},{"offset":1,"color":"#fff"}]}},
    "encoding":{"x":{"field":"x1","type":"quantitative"},"x2":{"field":"x2"},"y":{"field":"y1","type":"quantitative"},"y2":{"field":"y2"}}},
   {"data":{"name":"d_shapes"},"transform":[{"filter":"datum.role=='arrow'"}],"mark":{"type":"rule","color":"#222","strokeWidth":1.5},
    "encoding":{"x":{"field":"x1","type":"quantitative"},"x2":{"field":"x2"},"y":{"field":"y1","type":"quantitative"}}},
   {"data":{"name":"d_shapes"},"transform":[{"filter":"datum.role=='arrow'"}],"mark":{"type":"point","shape":"M-1,-0.64L0,0L-1,0.64","filled":false,"size":484,"stroke":"#222","strokeWidth":1.5,"opacity":1},
    "encoding":{"x":{"field":"x2","type":"quantitative"},"y":{"field":"y1","type":"quantitative"}}},
   {"data":{"name":"d_text"},"transform":[{"filter":"datum.role=='tag'"}],"mark":{"type":"text","fontSize":32,"fontWeight":"bold","align":"left","baseline":"alphabetic","color":"#000"},
    "encoding":{"x":{"field":"x","type":"quantitative"},"y":{"field":"y","type":"quantitative"},"text":{"field":"text"}}},
   {"data":{"name":"d_text"},"transform":[{"filter":"datum.role=='title'"}],"mark":{"type":"text","fontSize":32,"align":"left","baseline":"alphabetic","color":"#000"},
    "encoding":{"x":{"field":"x","type":"quantitative"},"y":{"field":"y","type":"quantitative"},"text":{"field":"text"}}},
   {"data":{"name":"d_text"},"transform":[{"filter":"datum.role=='flow'"}],"mark":{"type":"text","fontSize":24,"align":"center","baseline":"alphabetic","color":"#000"},
    "encoding":{"x":{"field":"x","type":"quantitative"},"y":{"field":"y","type":"quantitative"},"text":{"field":"text"}}},
   {"data":{"name":"d_text"},"transform":[{"filter":"datum.role=='label'"}],"mark":{"type":"text","fontSize":23,"align":"center","baseline":"alphabetic","color":"#000"},
    "encoding":{"x":{"field":"x","type":"quantitative"},"y":{"field":"y","type":"quantitative"},"text":{"field":"text"}}},
   {"data":{"name":"d_text"},"transform":[{"filter":"datum.role=='letter'"}],"mark":{"type":"text","fontSize":25,"align":"center","baseline":"alphabetic","color":"#000"},
    "encoding":{"x":{"field":"x","type":"quantitative"},"y":{"field":"y","type":"quantitative"},"text":{"field":"text"}}}
  ]}
 ], "spacing": 128, "bounds": "flush"}
]
}
